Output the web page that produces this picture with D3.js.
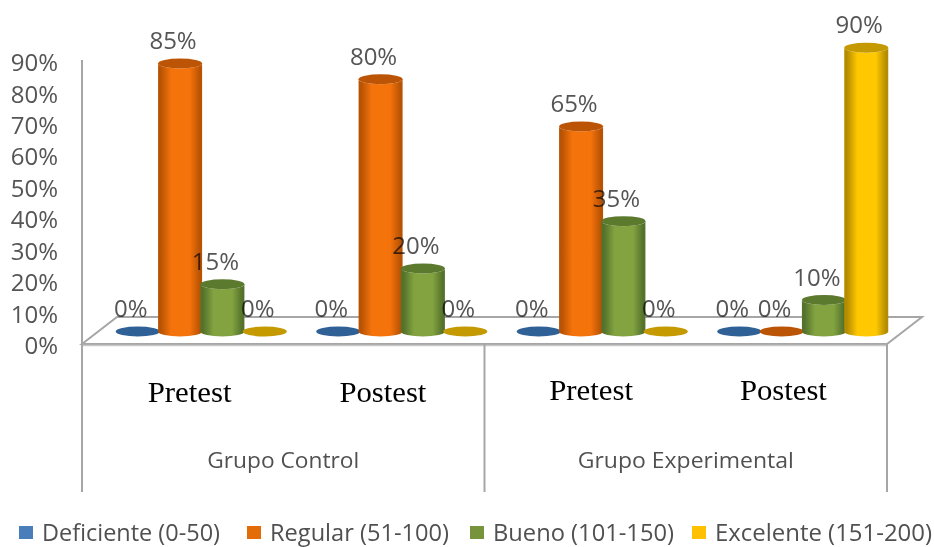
<!DOCTYPE html>
<html>
<head>
<meta charset="utf-8">
<style>
html,body{margin:0;padding:0;background:#fff;}
svg{display:block;}
text{font-family:"Open Sans",sans-serif;}
</style>
<script src="https://cdn.jsdelivr.net/npm/d3@7/dist/d3.min.js"></script>
</head>
<body>
<svg id="chart" width="934" height="547"></svg>
<script>
// Test moments along the horizontal axis and the two study groups
const moments = ["Pretest", "Postest", "Pretest", "Postest"];
const groups = ["Grupo Control", "Grupo Experimental"];
const tickValues = [0, 10, 20, 30, 40, 50, 60, 70, 80, 90];

// Share of students (%) per level
const seriesNames = ["Deficiente (0-50)", "Regular (51-100)", "Bueno (101-150)", "Excelente (151-200)"];
const deficiente = [0, 0, 0, 0];
const regular = [85, 80, 65, 0];
const bueno = [15, 20, 35, 10];
const excelente = [0, 0, 0, 90];
const seriesValues = [deficiente, regular, bueno, excelente];

const palette = [
  {key: "blue", side: "#2f5f95", mid: "#4a7ebb", top: "#2f6096", legend: "#4a7ebb"},
  {key: "orange", side: "#b85304", mid: "#f5730b", top: "#bb5505", legend: "#e36c09"},
  {key: "green", side: "#55722c", mid: "#82a340", top: "#5c7a2e", legend: "#77933c"},
  {key: "yellow", side: "#b48c00", mid: "#ffc800", top: "#c59a00", legend: "#ffc000"}
];

const svg = d3.select("#chart");
const defs = svg.append("defs");

// Horizontal shading that gives the columns a rounded look
palette.forEach(c => {
  const g = defs.append("linearGradient").attr("id", "cyl-" + c.key)
    .attr("x1", "0").attr("x2", "1").attr("y1", "0").attr("y2", "0");
  [[0, c.side], [0.06, c.side], [0.3, c.mid], [0.72, c.mid], [0.95, c.side], [1, c.side]]
    .forEach(([o, col]) => g.append("stop").attr("offset", o).attr("stop-color", col));
});

// Scales: the columns stand on a floor set back from the front of the axis
const frontLeft = 82, frontRight = 887, frontY = 344;
const backShift = 35, backY = 317;
const yAxisScale = d3.scaleLinear().domain([0, 90]).range([345, 62]);
const yBar = d3.scaleLinear().domain([0, 90]).range([331.5, 47.7]);
const xMoment = d3.scaleBand().domain(d3.range(moments.length)).range([101, 903]);
const xSeries = d3.scalePoint().domain(d3.range(seriesNames.length)).range([-63.5, 63.5]);
const xFront = d3.scaleBand().domain(d3.range(moments.length)).range([frontLeft, frontRight]);
const xGroup = d3.scaleBand().domain(groups).range([frontLeft, frontRight]);

const colR = 22, colRy = 5;
const gridColor = "#a6a6a6";

// Floor of the plot
svg.append("path")
  .attr("d", `M${frontLeft},${frontY} L${frontLeft + backShift},${backY} L${frontRight + backShift},${backY} L${frontRight},${frontY} Z`)
  .attr("fill", "#fff").attr("stroke", gridColor).attr("stroke-width", 2);
svg.append("line").attr("x1", frontLeft).attr("x2", frontRight).attr("y1", frontY + 1.5).attr("y2", frontY + 1.5)
  .attr("stroke", "#c8c8c8").attr("stroke-width", 1.5);

// Vertical axis with its labels
const axis = d3.axisLeft(yAxisScale).tickValues(tickValues).tickSize(0).tickPadding(0).tickFormat(d => d + "%");
const axisG = svg.append("g").attr("transform", "translate(58,0)").call(axis);
axisG.select(".domain").remove();
axisG.selectAll("text")
  .attr("fill", "#555").attr("font-size", 24).attr("dy", "0.36em")
  .attr("text-anchor", "end").style("font-family", '"Open Sans",sans-serif');
svg.append("line").attr("x1", frontLeft).attr("x2", frontLeft).attr("y1", 60).attr("y2", 492)
  .attr("stroke", gridColor).attr("stroke-width", 2);

// Separators below the floor
[xGroup(groups[1]), frontRight].forEach(x => {
  svg.append("line").attr("x1", x).attr("x2", x).attr("y1", frontY).attr("y2", 492)
    .attr("stroke", gridColor).attr("stroke-width", 2);
});

// Columns, drawn left to right so each one overlaps the previous
const marks = [];
moments.forEach((m, i) => seriesValues.forEach((vals, s) => marks.push({i, s, v: vals[i]})));
const cx = d => xMoment(d.i) + xMoment.bandwidth() / 2 + xSeries(d.s);

const col = svg.append("g").selectAll("g").data(marks).join("g");
col.filter(d => d.v > 0).append("path")
  .attr("d", d => {
    const x = cx(d), y0 = yBar(0), y1 = yBar(d.v);
    return `M${x - colR},${y1} L${x - colR},${y0} A${colR},${colRy} 0 0 0 ${x + colR},${y0} L${x + colR},${y1} A${colR},${colRy} 0 0 1 ${x - colR},${y1} Z`;
  })
  .attr("fill", d => `url(#cyl-${palette[d.s].key})`);
col.append("ellipse")
  .attr("cx", cx).attr("cy", d => yBar(d.v))
  .attr("rx", colR).attr("ry", colRy)
  .attr("fill", d => palette[d.s].top);

// Value labels sit above every column and darken what they overlap
svg.append("g").selectAll("text").data(marks).join("text")
  .attr("x", d => cx(d) - 7)
  .attr("y", d => yBar(d.v) - 23)
  .attr("dy", "0.36em")
  .attr("text-anchor", "middle")
  .attr("font-size", 24)
  .attr("fill", "#555")
  .style("mix-blend-mode", "multiply")
  .text(d => d.v + "%");

// Test moment captions, hand-set slightly off the band centres
const captionNudge = [[7, 0], [-1, 0], [6, -2], [-3, -2]];
svg.append("g").selectAll("text").data(moments).join("text")
  .attr("x", (d, i) => xFront(i) + xFront.bandwidth() / 2 + captionNudge[i][0])
  .attr("y", (d, i) => 392 + captionNudge[i][1])
  .attr("dy", "0.33em")
  .attr("text-anchor", "middle")
  .attr("font-size", 30)
  .attr("textLength", (d, i) => [84, 87, 84, 87][i])
  .attr("lengthAdjust", "spacingAndGlyphs")
  .style("font-family", '"Liberation Serif",serif')
  .attr("fill", "#000")
  .text(d => d);

// Study group captions
svg.append("g").selectAll("text").data(groups).join("text")
  .attr("x", d => xGroup(d) + xGroup.bandwidth() / 2)
  .attr("y", 460)
  .attr("dy", "0.35em")
  .attr("text-anchor", "middle")
  .attr("font-size", 22)
  .attr("fill", "#505050")
  .attr("textLength", (d, i) => [152, 216][i])
  .attr("lengthAdjust", "spacingAndGlyphs")
  .text(d => d);

// Legend along the bottom edge
const legendX = d3.scaleOrdinal().domain(seriesNames).range([19, 247, 470, 692]);
const legendWidths = [178, 179, 181, 217];
const legend = svg.append("g").selectAll("g").data(seriesNames).join("g")
  .attr("transform", d => `translate(${legendX(d)},526)`);
legend.append("rect").attr("width", 14).attr("height", 13)
  .attr("fill", (d, i) => palette[i].legend);
legend.append("text")
  .attr("x", 23).attr("y", 7).attr("dy", "0.35em")
  .attr("font-size", 23).attr("fill", "#505050")
  .attr("textLength", (d, i) => legendWidths[i])
  .attr("lengthAdjust", "spacingAndGlyphs")
  .text(d => d);
</script>
</body>
</html>
